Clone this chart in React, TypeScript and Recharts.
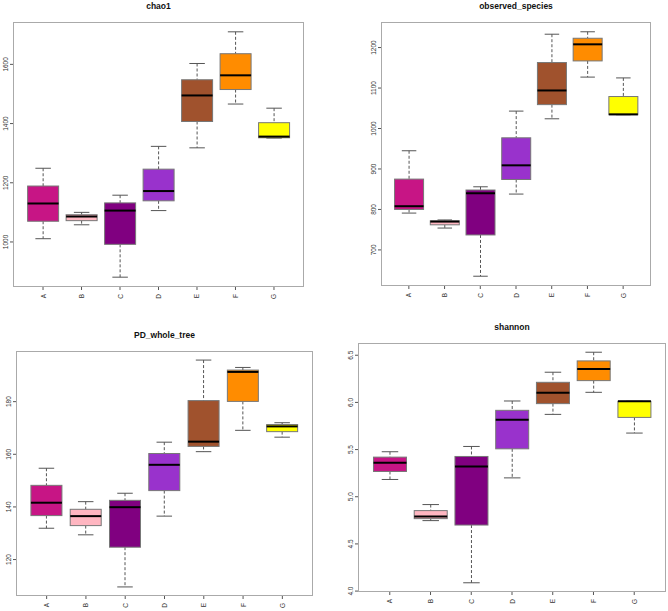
import React from 'react';
import { ComposedChart, Bar, XAxis, YAxis, Cell } from 'recharts';

const CATEGORIES = ['A', 'B', 'C', 'D', 'E', 'F', 'G'];
const COLORS = ['#C71585', '#FFB6C1', '#800080', '#9932CC', '#A0522D', '#FF8C00', '#FFFF00'];

// chao1
const chao1Min = [1011, 1058, 881, 1106, 1318, 1466, 1351];
const chao1Q1 = [1070, 1072, 992, 1139, 1407, 1515, 1352];
const chao1Median = [1130, 1086, 1106, 1172, 1495, 1563, 1356];
const chao1Q3 = [1189, 1092, 1132, 1246, 1548, 1636, 1403];
const chao1Max = [1249, 1100, 1158, 1323, 1603, 1710, 1452];
const chao1Ticks = [1000, 1200, 1400, 1600];

// observed_species
const obsMin = [791, 754, 635, 838, 1024, 1127, 1034];
const obsQ1 = [800, 762, 737, 874, 1059, 1167, 1034];
const obsMedian = [808, 770, 840, 909, 1094, 1208, 1035];
const obsQ3 = [875, 772, 848, 977, 1163, 1223, 1079];
const obsMax = [945, 774, 856, 1043, 1233, 1239, 1125];
const obsTicks = [700, 800, 900, 1000, 1100, 1200];

// PD_whole_tree
const pdMin = [131.9, 129.4, 109.6, 136.5, 161.0, 169.1, 166.5];
const pdQ1 = [136.7, 132.9, 124.7, 146.2, 163.0, 180.1, 168.6];
const pdMedian = [141.6, 136.5, 139.9, 156.0, 164.8, 191.3, 170.6];
const pdQ3 = [148.2, 139.1, 142.5, 160.3, 180.4, 192.0, 171.3];
const pdMax = [154.7, 142.0, 145.2, 164.6, 195.8, 193.0, 172.0];
const pdTicks = [120, 140, 160, 180];

// shannon
const shMin = [5.183, 4.747, 4.088, 5.2, 5.873, 6.107, 5.675];
const shQ1 = [5.268, 4.768, 4.7, 5.508, 5.987, 6.231, 5.841];
const shMedian = [5.36, 4.79, 5.32, 5.817, 6.103, 6.355, 6.011];
const shQ3 = [5.42, 4.853, 5.427, 5.916, 6.213, 6.44, 6.011];
const shMax = [5.477, 4.917, 5.533, 6.015, 6.32, 6.532, 6.011];
const shTicks = [4.0, 4.5, 5.0, 5.5, 6.0, 6.5];

const FONT = '"Liberation Sans", Arial, sans-serif';
const YW = 12;
const MT = 4;
const MR = 4;
const XH = 18;

type Row = { name: string; min: number; q1: number; median: number; q3: number; max: number };
type Frame = { left: number; top: number; width: number; height: number };

const buildRows = (min: number[], q1: number[], median: number[], q3: number[], max: number[]): Row[] =>
  CATEGORIES.map((name, i) => ({ name, min: min[i], q1: q1[i], median: median[i], q3: q3[i], max: max[i] }));

const BoxShape = (props: any) => {
  const { x, y, width, height, fill, payload } = props;
  const top = Math.min(y, y + height);
  const bottom = Math.max(y, y + height);
  const span = payload.max - payload.min || 1;
  const py = (v: number) => bottom - ((v - payload.min) / span) * (bottom - top);
  const cx = x + width / 2;
  const cap = width / 4;
  return (
    <g>
      <line x1={cx} x2={cx} y1={py(payload.max)} y2={py(payload.q3)} stroke="#555" strokeDasharray="3 2" />
      <line x1={cx} x2={cx} y1={py(payload.q1)} y2={py(payload.min)} stroke="#555" strokeDasharray="3 2" />
      <line x1={cx - cap} x2={cx + cap} y1={py(payload.max)} y2={py(payload.max)} stroke="#555" />
      <line x1={cx - cap} x2={cx + cap} y1={py(payload.min)} y2={py(payload.min)} stroke="#555" />
      <rect x={x} y={py(payload.q3)} width={width} height={py(payload.q1) - py(payload.q3)} fill={fill} stroke="#777" />
      <line x1={x} x2={x + width} y1={py(payload.median)} y2={py(payload.median)} stroke="#000" strokeWidth={2} />
    </g>
  );
};

const YTick = (props: any) => {
  const { x, y, payload, fmt } = props;
  const tx = x - 2.5;
  return (
    <text x={tx} y={y} transform={`rotate(-90 ${tx} ${y})`} textAnchor="middle" dominantBaseline="central"
      fontSize={6.5} fill="#333" fontFamily={FONT}>
      {fmt(payload.value)}
    </text>
  );
};

const XTick = (props: any) => {
  const { x, y, payload } = props;
  return (
    <text x={x} y={y} transform={`rotate(-90 ${x} ${y})`} textAnchor="end" dominantBaseline="central"
      fontSize={6.5} fill="#333" fontFamily={FONT}>
      {payload.value}
    </text>
  );
};

const Panel = ({ title, rows, ticks, frame, fmt }: { title: string; rows: Row[]; ticks: number[]; frame: Frame; fmt: (v: number) => string }) => {
  const all = rows.flatMap((r) => [r.min, r.max]);
  const lo = Math.min(...all);
  const hi = Math.max(...all);
  const ext = (hi - lo) * 0.04;
  const pad = (frame.width * 0.28) / 7.56;
  return (
    <>
      <div style={{ position: 'absolute', left: frame.left, top: frame.top, width: frame.width, height: frame.height, border: '1px solid #aaa', boxSizing: 'border-box' }} />
      <div style={{ position: 'absolute', left: frame.left, top: frame.top - 22, width: frame.width, textAlign: 'center', fontFamily: FONT, fontWeight: 'bold', fontSize: 8.5, lineHeight: '12px', color: '#111' }}>
        {title}
      </div>
      <div style={{ position: 'absolute', left: frame.left - YW, top: frame.top - MT }}>
        <ComposedChart width={YW + frame.width + MR} height={MT + frame.height + XH} data={rows}
          margin={{ top: MT, right: MR, bottom: 0, left: 0 }} style={{ overflow: 'visible' }}>
          <XAxis dataKey="name" type="category" height={XH} padding={{ left: pad, right: pad }} interval={0}
            axisLine={false} tickSize={3} tickMargin={4} tickLine={{ stroke: '#555' }} tick={<XTick />} />
          <YAxis type="number" width={YW} domain={[lo - ext, hi + ext]} ticks={ticks} interval={0} allowDataOverflow
            axisLine={false} tickSize={3} tickMargin={2} tickLine={{ stroke: '#555' }} tick={<YTick fmt={fmt} />} />
          <Bar dataKey={(d: Row) => [d.min, d.max]} shape={<BoxShape />} isAnimationActive={false}>
            {rows.map((r, i) => (
              <Cell key={`cell-${r.name}`} fill={COLORS[i % COLORS.length]} />
            ))}
          </Bar>
        </ComposedChart>
      </div>
    </>
  );
};

const intFmt = (v: number) => String(v);
const decFmt = (v: number) => v.toFixed(1);

export default function App() {
  return (
    <div style={{ position: 'absolute', left: 0, top: 0, width: 668, height: 611, background: '#fff', overflow: 'hidden' }}>
      <Panel title="chao1" rows={buildRows(chao1Min, chao1Q1, chao1Median, chao1Q3, chao1Max)} ticks={chao1Ticks}
        frame={{ left: 13, top: 22, width: 291, height: 265 }} fmt={intFmt} />
      <Panel title="observed_species" rows={buildRows(obsMin, obsQ1, obsMedian, obsQ3, obsMax)} ticks={obsTicks}
        frame={{ left: 381, top: 22, width: 270, height: 264 }} fmt={intFmt} />
      <Panel title="PD_whole_tree" rows={buildRows(pdMin, pdQ1, pdMedian, pdQ3, pdMax)} ticks={pdTicks}
        frame={{ left: 16, top: 351, width: 297, height: 245 }} fmt={intFmt} />
      <Panel title="shannon" rows={buildRows(shMin, shQ1, shMedian, shQ3, shMax)} ticks={shTicks}
        frame={{ left: 358, top: 343, width: 308, height: 249 }} fmt={decFmt} />
    </div>
  );
}
